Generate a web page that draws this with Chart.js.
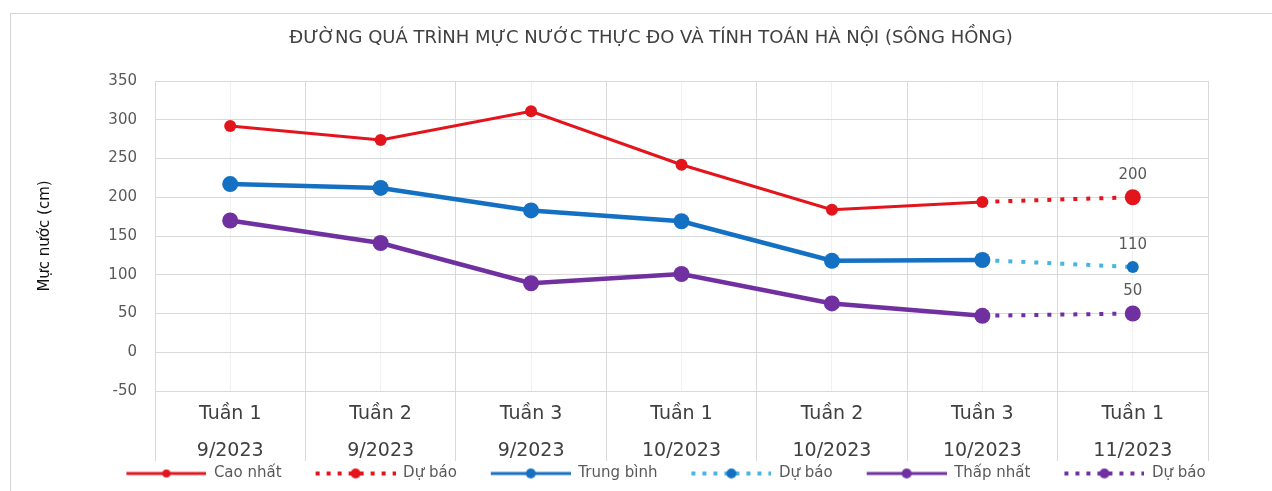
<!DOCTYPE html>
<html>
<head>
<meta charset="utf-8">
<script src="https://cdn.jsdelivr.net/npm/chart.js@4.4.1/dist/chart.umd.min.js"></script>
<style>
  html, body { margin: 0; padding: 0; background: #fff; }
  canvas { display: block; }
</style>
</head>
<body>
<canvas id="grafico_muc_nuoc" width="1272" height="491"></canvas>
<script>
const tuan = ["Tuần 1", "Tuần 2", "Tuần 3", "Tuần 1", "Tuần 2", "Tuần 3", "Tuần 1"]
const thang = ["9/2023", "9/2023", "9/2023", "10/2023", "10/2023", "10/2023", "11/2023"]

const caoNhat = [292, 274, 311, 242, 184, 194, null]
const caoNhatDuBao = [null, null, null, null, null, 194, 200]
const trungBinh = [217, 212, 183, 169, 118, 119, null]
const trungBinhDuBao = [null, null, null, null, null, 119, 110]
const thapNhat = [170, 141, 89, 101, 63, 47, null]
const thapNhatDuBao = [null, null, null, null, null, 47, 50]

const yTicks = [-50, 0, 50, 100, 150, 200, 250, 300, 350]

const DO = "#e3141c"
const XANH = "#1470c2"
const XANH_NHAT = "#48b4e0"
const TIM = "#7030a0"

Chart.defaults.font.family = "'DejaVu Sans', sans-serif"

// icon for the legend: a short line with a dot in the middle (left part left empty as spacing)
const veBieuTuong = (mauNet, mauDiem, netDut, banKinh) => {
    const c = document.createElement("canvas")
    c.width = 110
    c.height = 16
    const g = c.getContext("2d")
    g.strokeStyle = mauNet
    g.lineWidth = netDut ? 4 : 3
    if (netDut) g.setLineDash([4, 7])
    g.beginPath()
    g.moveTo(30, 8)
    g.lineTo(110, 8)
    g.stroke()
    g.setLineDash([])
    g.fillStyle = mauDiem
    g.beginPath()
    g.arc(70, 8, banKinh, 0, Math.PI * 2)
    g.fill()
    return c
}

const bieuTuong = [
    veBieuTuong(DO, DO, false, 4),
    veBieuTuong(DO, DO, true, 5),
    veBieuTuong(XANH, XANH, false, 5),
    veBieuTuong(XANH_NHAT, XANH, true, 5),
    veBieuTuong(TIM, TIM, false, 5),
    veBieuTuong(TIM, TIM, true, 5)
]

const chiDiemCuoi = (r) => tuan.map((_, i) => i === tuan.length - 1 ? r : 0)

const khung = {
    id: "khung",
    beforeDraw(chart) {
        const ctx = chart.ctx
        ctx.save()
        ctx.fillStyle = "#fff"
        ctx.fillRect(0, 0, chart.width, chart.height)
        ctx.strokeStyle = "#d4d4d4"
        ctx.lineWidth = 1
        ctx.strokeRect(10.5, 13.5, chart.width + 20, chart.height + 20)
        ctx.restore()
    }
}

const nhanDuBao = {
    id: "nhanDuBao",
    afterDatasetsDraw(chart) {
        const ctx = chart.ctx
        ctx.save()
        ctx.font = "15px 'DejaVu Sans', sans-serif"
        ctx.fillStyle = "#595959"
        ctx.textAlign = "center"
        ctx.textBaseline = "middle"
        chart.data.datasets.forEach((ds, i) => {
            if (!ds.duBao) return
            const idx = ds.data.length - 1
            const p = chart.getDatasetMeta(i).data[idx]
            ctx.fillText(String(ds.data[idx]), p.x, p.y - 22)
        })
        ctx.restore()
    }
}

const prepararDados = () => ({
    labels: tuan.map((t, i) => [t, thang[i]]),
    datasets: [
        { label: "Cao nhất", data: caoNhat, borderColor: DO, backgroundColor: DO,
          borderWidth: 3, pointRadius: 6, order: 1 },
        { label: "Dự báo", data: caoNhatDuBao, duBao: true, borderColor: DO, backgroundColor: DO,
          borderWidth: 4, borderDash: [4, 9], pointRadius: chiDiemCuoi(8), order: 4 },
        { label: "Trung bình", data: trungBinh, borderColor: XANH, backgroundColor: XANH,
          borderWidth: 4.5, pointRadius: 8, order: 2 },
        { label: "Dự báo", data: trungBinhDuBao, duBao: true, borderColor: XANH_NHAT, backgroundColor: XANH,
          borderWidth: 4, borderDash: [4, 9], pointRadius: chiDiemCuoi(6), order: 5 },
        { label: "Thấp nhất", data: thapNhat, borderColor: TIM, backgroundColor: TIM,
          borderWidth: 4.5, pointRadius: 8, order: 3 },
        { label: "Dự báo", data: thapNhatDuBao, duBao: true, borderColor: TIM, backgroundColor: TIM,
          borderWidth: 4, borderDash: [4, 9], pointRadius: chiDiemCuoi(8), order: 6 }
    ].map(ds => Object.assign({ pointStyle: "circle", pointBorderWidth: 0, tension: 0, spanGaps: false }, ds))
})

const criarGrafico = () => {
    const ctx = document.querySelector("#grafico_muc_nuoc")
    new Chart(ctx, {
        type: "line",
        data: prepararDados(),
        plugins: [khung, nhanDuBao],
        options: {
            responsive: false,
            animation: false,
            devicePixelRatio: 1,
            layout: { padding: { left: 30, right: 0, top: 0, bottom: 0 } },
            scales: {
                x: {
                    offset: true,
                    grid: { offset: true, color: "#d9d9d9", tickLength: 70, drawTicks: true },
                    border: { display: false },
                    ticks: {
                        padding: -65.5,
                        maxRotation: 0,
                        autoSkip: false,
                        color: "#404040",
                        font: { size: 19, lineHeight: 1.95 }
                    },
                    afterFit: (s) => { s.height = 71 }
                },
                xGiua: {
                    type: "category",
                    position: "bottom",
                    offset: true,
                    grid: { offset: false, color: "#f1f1f1", drawTicks: false },
                    border: { display: false },
                    ticks: { display: false },
                    afterFit: (s) => { s.height = 0 }
                },
                y: {
                    min: -50,
                    max: 350,
                    afterBuildTicks: (s) => { s.ticks = yTicks.map(v => ({ value: v })) },
                    grid: { color: "#d9d9d9", drawTicks: false },
                    border: { display: false },
                    ticks: { padding: 18, color: "#595959", font: { size: 15 } },
                    title: {
                        display: true,
                        text: "Mực nước (cm)",
                        color: "#111",
                        font: { size: 15 },
                        padding: { top: 6, bottom: 0 }
                    },
                    afterFit: (s) => { s.width = 125 }
                },
                yPhai: {
                    position: "right",
                    grid: { display: false },
                    border: { display: false },
                    ticks: { display: false },
                    afterFit: (s) => { s.width = 64 }
                }
            },
            plugins: {
                title: {
                    display: true,
                    text: "ĐƯỜNG QUÁ TRÌNH MỰC NƯỚC THỰC ĐO VÀ TÍNH TOÁN HÀ NỘI (SÔNG HỒNG)",
                    color: "#404040",
                    font: { size: 18, weight: "normal", lineHeight: 1.2 },
                    padding: { top: 28, bottom: 31.4 }
                },
                legend: {
                    position: "bottom",
                    labels: {
                        usePointStyle: true,
                        pointStyleWidth: 110,
                        padding: 4,
                        color: "#595959",
                        font: { size: 15 },
                        generateLabels: (chart) => {
                            const itens = Chart.defaults.plugins.legend.labels.generateLabels(chart)
                            itens.sort((a, b) => a.datasetIndex - b.datasetIndex)
                            itens.forEach(it => { it.pointStyle = bieuTuong[it.datasetIndex] })
                            return itens
                        }
                    }
                },
                tooltip: { enabled: false }
            }
        }
    })
}

criarGrafico()
</script>
</body>
</html>
